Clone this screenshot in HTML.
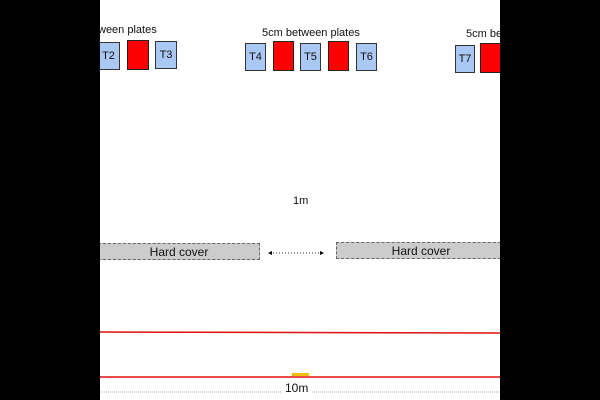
<!DOCTYPE html>
<html><head><style>
body{margin:0;width:600px;height:400px;background:#000;position:relative;overflow:hidden;font-family:"Liberation Sans",sans-serif}
#w{position:absolute;left:100px;top:0;width:400px;height:400px;background:#fff;overflow:hidden}
.b{position:absolute;background:#a9c8f3;border:1px solid #333;box-sizing:border-box;font-size:11px;color:#111;display:flex;align-items:center;justify-content:center}
.r{position:absolute;background:#f00;border:1.5px solid #222;box-sizing:border-box}
.t{position:absolute;font-size:11px;color:#111;white-space:nowrap}
.hc{position:absolute;background:#ccc;border:1px dashed #666;box-sizing:border-box;font-size:12px;display:flex;align-items:center;justify-content:center;color:#111}
</style></head><body><div id="w">
<div class="t" style="left:-2px;top:24px">ween plates</div>
<div class="b" style="left:-3px;top:42px;width:23px;height:28px">T2</div>
<div class="r" style="left:27px;top:40px;width:22px;height:30px"></div>
<div class="b" style="left:55px;top:41px;width:22px;height:28px">T3</div>
<div class="t" style="left:162px;top:27px">5cm between plates</div>
<div class="b" style="left:145px;top:43px;width:21px;height:28px">T4</div>
<div class="r" style="left:173px;top:41px;width:21px;height:30px"></div>
<div class="b" style="left:200px;top:43px;width:21px;height:28px">T5</div>
<div class="r" style="left:228px;top:41px;width:21px;height:30px"></div>
<div class="b" style="left:256px;top:43px;width:21px;height:28px">T6</div>
<div class="t" style="left:366px;top:28px">5cm be</div>
<div class="b" style="left:355px;top:45px;width:20px;height:28px">T7</div>
<div class="r" style="left:380px;top:43px;width:25px;height:30px"></div>
<div class="t" style="left:193px;top:195px">1m</div>
<div class="hc" style="left:-2px;top:243px;width:162px;height:17px">Hard cover</div>
<div class="hc" style="left:236px;top:242px;width:170px;height:17px">Hard cover</div>
<svg style="position:absolute;left:0;top:0" width="400" height="400">
<line x1="170" y1="253" x2="221" y2="253" stroke="#333" stroke-dasharray="1,2"/>
<polygon points="168,253 172,251 172,255" fill="#000"/>
<polygon points="224,253 220,251 220,255" fill="#000"/>
<line x1="0" y1="332" x2="400" y2="333" stroke="#e01010" stroke-width="1.5"/>
<line x1="0" y1="377" x2="400" y2="377" stroke="#e01010" stroke-width="1.5"/>
<rect x="192" y="373" width="17" height="3" fill="#f0c000"/>
<line x1="0" y1="392" x2="182" y2="392" stroke="#aaa" stroke-dasharray="1,1"/>
<line x1="212" y1="392" x2="400" y2="392" stroke="#aaa" stroke-dasharray="1,1"/>
</svg>
<div class="t" style="left:185px;top:381px;font-size:12px">10m</div>
</div></body></html>
